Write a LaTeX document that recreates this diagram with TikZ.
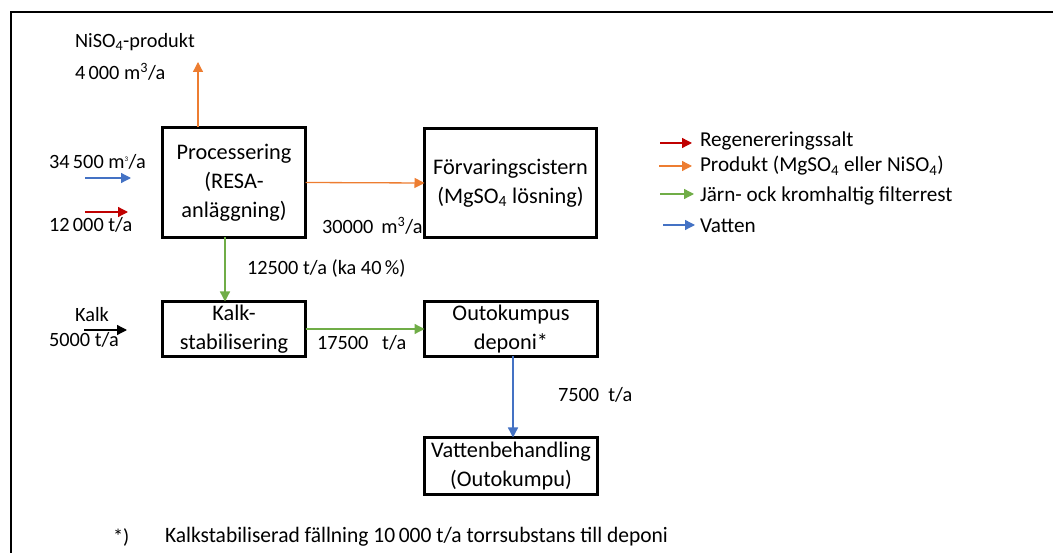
\documentclass[tikz,border=0pt]{standalone}
\usepackage{fontspec}
\setmainfont{Carlito}
\usetikzlibrary{arrows.meta}
\definecolor{cRed}{HTML}{C00000}
\definecolor{cOrange}{HTML}{ED7D31}
\definecolor{cGreen}{HTML}{70AD47}
\definecolor{cBlue}{HTML}{4472C4}
\begin{document}
\begin{tikzpicture}[x=1pt,y=-1pt,
  every node/.style={inner sep=0pt,outer sep=0pt},
  stage/.style={draw,line width=3pt,align=center,font=\fontsize{22.3}{29}\selectfont},
  lbl/.style={anchor=west,font=\fontsize{20.3}{24}\selectfont},
  lgd/.style={anchor=west,font=\fontsize{21.2}{24}\selectfont},
  flow/.style={line width=1.3pt,-{Triangle[length=10pt,width=10pt]}},
]
\useasboundingbox (0,0) rectangle (1053,553);
\clip (0,0) rectangle (1053,553);
% outer frame
\draw[line width=2.5pt] (11,600) -- (11,12) -- (1100,12);

% process stages
\node[stage,minimum width=143pt,minimum height=110pt] (proc) at (234,182.5)
  {Processering\\(RESA-\\anläggning)};
\node[stage,minimum width=172pt,minimum height=109pt] (forv) at (510.5,183)
  {Förvaringscistern\\(MgSO\textsubscript{4} lösning)};
\node[stage,minimum width=143pt,minimum height=55pt] (kalk) at (234,329)
  {Kalk-\\stabilisering};
\node[stage,minimum width=173pt,minimum height=55pt] (outo) at (511,329)
  {Outokumpus\\deponi*};
\node[stage,minimum width=173pt,minimum height=57pt] (vatt) at (511,466)
  {Vattenbehandling\\(Outokumpu)};

% free arrow ends
\coordinate (niTop) at (198,62);
\coordinate (gx) at (225,0);
\coordinate (bx) at (513,0);
\coordinate (wIn0) at (85,178);   \coordinate (wIn1) at (131,178);
\coordinate (sIn0) at (85,212);   \coordinate (sIn1) at (128,212);
\coordinate (kIn0) at (84,330);   \coordinate (kIn1) at (127,330);

% flows
\draw[flow,cOrange] (proc.north -| niTop) -- (niTop);
\draw[flow,cOrange] (proc.east) -- (forv.west);
\draw[flow,cGreen] (proc.south -| gx) -- (kalk.north -| gx);
\draw[flow,cGreen] (kalk.east) -- (outo.west);
\draw[flow,cBlue] (outo.south -| bx) -- (vatt.north -| bx);
\draw[flow,cBlue] (wIn0) -- (wIn1);
\draw[flow,cRed] (sIn0) -- (sIn1);
\draw[flow,black] (kIn0) -- (kIn1);

% flow labels
\node[lbl] (tNi) at (75,42) {NiSO\textsubscript{4}-produkt};
\node[lbl] (tNiQ) at (75,72) {4\,000 m\textsuperscript{3}/a};
\node[lbl] (tW) at (49,162) {34\,500 m\textsuperscript{\scriptsize 3}/a};
\node[lbl] (tS) at (49,225) {12\,000 t/a};
\node[lbl] (tM) at (322,226) {30000 \,m\textsuperscript{3}/a};
\node[lbl] (tG) at (247,268) {12500 t/a (ka 40\,\%)};
\node[font=\fontsize{20.3}{24}\selectfont] (tK) at (92,315) {Kalk};
\node[lbl] (tKQ) at (49,340) {5000 t/a};
\node[lbl] (tD) at (317,343) {17500 \ \ t/a};
\node[lbl] (tV) at (558,395) {7500 \ t/a};

% legend
\coordinate (l1a) at (660,143); \coordinate (l1b) at (692,143);
\coordinate (l2a) at (659,166); \coordinate (l2b) at (692,166);
\coordinate (l3a) at (660,194); \coordinate (l3b) at (694,194);
\coordinate (l4a) at (663,225); \coordinate (l4b) at (695,225);
\draw[flow,cRed] (l1a) -- (l1b);
\draw[flow,cOrange] (l2a) -- (l2b);
\draw[flow,cGreen] (l3a) -- (l3b);
\draw[flow,cBlue] (l4a) -- (l4b);
\node[lgd] (g1) at (700,141) {Regenereringssalt};
\node[lgd] (g2) at (700,166) {Produkt (MgSO\textsubscript{4} eller NiSO\textsubscript{4})};
\node[lgd] (g3) at (700,196) {Järn- ock kromhaltig filterrest};
\node[lgd] (g4) at (700,226) {Vatten};

% footnote (condensed line)
\node[lbl] (fnA) at (113,537) {*)};
\node[anchor=west] (fnB) at (165,537)
  {\resizebox{503pt}{\height}{\fontsize{22}{26}\selectfont Kalkstabiliserad fällning 10\,000 t/a torrsubstans till deponi}};
\end{tikzpicture}
\end{document}
